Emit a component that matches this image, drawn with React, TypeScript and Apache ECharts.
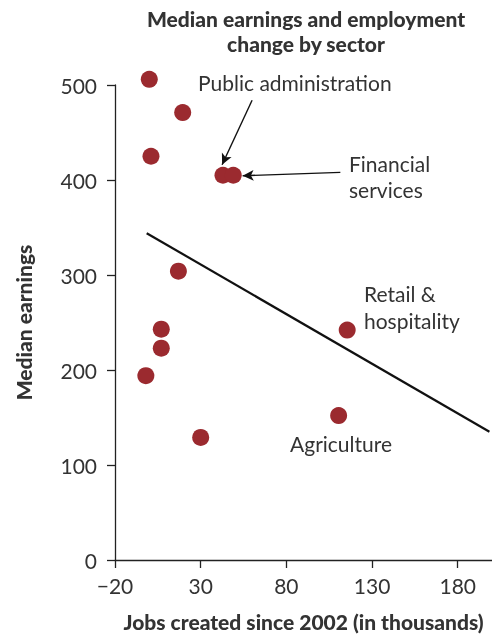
import React, { useEffect, useRef } from "react";
import * as echarts from "echarts";

const jobsCreated = [0, 19.5, 1, 43, 49, 17, 7, 7, -2, 30, 115.5, 110.5];
const medianEarnings = [506, 471, 425, 405, 405, 304, 243, 223, 194, 129, 242, 152];
const trendX = [-1.5, 198.5];
const trendY = [344, 135];
const xTicks = [-20, 30, 80, 130, 180];
const yTicks = [0, 100, 200, 300, 400, 500];
const publicAdminArrow = [[60, 484], [42.5, 416]];
const financialArrow = [[111.5, 408], [54.5, 404.5]];

const FONT = "Lato";
const TEXT = "#333333";
const RED = "#9b2a2f";

export default function App() {
  const ref = useRef<HTMLDivElement>(null);
  useEffect(() => {
    if (!ref.current) return;
    const chart = echarts.init(ref.current, null, { renderer: "svg" });
    const points = jobsCreated.map((x, i) => [x, medianEarnings[i]]);
    const trend = trendX.map((x, i) => [x, trendY[i]]);
    chart.setOption({
      animation: false,
      textStyle: { fontFamily: FONT },
      grid: { left: 115, top: 85, bottom: 78, right: -3 },
      title: {
        text: "Median earnings and employment\nchange by sector",
        left: 301,
        textAlign: "center",
        top: 1,
        textStyle: { fontFamily: FONT, fontWeight: 900, fontSize: 21, color: TEXT, lineHeight: 25 },
      },
      xAxis: {
        type: "value",
        min: xTicks[0],
        max: 200,
        interval: 50,
        name: "Jobs created since 2002 (in thousands)",
        nameLocation: "middle",
        nameGap: 51,
        nameTextStyle: { fontFamily: FONT, fontWeight: 900, fontSize: 21, color: TEXT, padding: [0, 0, 0, 0] },
        axisLine: { onZero: false, lineStyle: { color: "#222", width: 1.3 } },
        axisTick: { show: true, length: 8, lineStyle: { color: "#222", width: 1.3 } },
        axisLabel: { fontSize: 21, color: TEXT, margin: 15, showMaxLabel: false,
          formatter: (v: number) => (v < 0 ? "\u2212" + Math.abs(v) : String(v)) },
        splitLine: { show: false },
      },
      yAxis: {
        type: "value",
        min: yTicks[0],
        max: yTicks[yTicks.length - 1],
        interval: 100,
        name: "Median earnings",
        nameLocation: "middle",
        nameGap: 81,
        nameRotate: 90,
        nameTextStyle: { fontFamily: FONT, fontWeight: 900, fontSize: 21, color: TEXT },
        axisLine: { show: true, onZero: false, lineStyle: { color: "#222", width: 1.3 } },
        axisTick: { show: true, length: 8, lineStyle: { color: "#222", width: 1.3 } },
        axisLabel: { fontSize: 21, color: TEXT, margin: 18 },
        splitLine: { show: false },
      },
      series: [
        {
          type: "line",
          data: trend,
          symbol: "none",
          lineStyle: { color: "#111", width: 2.2 },
          silent: true,
          z: 1,
        },
        {
          type: "scatter",
          data: points,
          symbolSize: 17,
          clip: false,
          itemStyle: { color: RED, opacity: 1 },
          z: 3,
          markLine: {
            silent: true,
            symbol: ["none", "arrow"],
            symbolSize: [8, 11],
            label: { show: false },
            lineStyle: { color: "#111", width: 1.4, type: "solid" },
            data: [
              [{ coord: publicAdminArrow[0] }, { coord: publicAdminArrow[1] }],
              [{ coord: financialArrow[0] }, { coord: financialArrow[1] }],
            ],
          },
        },
      ],
      graphic: [
        { type: "text", left: 198, top: 72, style: { text: "Public administration", font: `21px ${FONT}`, fill: TEXT } },
        { type: "text", left: 349, top: 150, style: { text: "Financial\nservices", font: `21px ${FONT}`, fill: TEXT, lineHeight: 26 } },
        { type: "text", left: 364, top: 280, style: { text: "Retail &\nhospitality", font: `21px ${FONT}`, fill: TEXT, lineHeight: 27 } },
        { type: "text", left: 290, top: 433, style: { text: "Agriculture", font: `21px ${FONT}`, fill: TEXT } },
      ],
    });
    return () => chart.dispose();
  }, []);
  return <div ref={ref} style={{ width: 492, height: 638, position: "fixed", left: 0, top: 0 }} />;
}
